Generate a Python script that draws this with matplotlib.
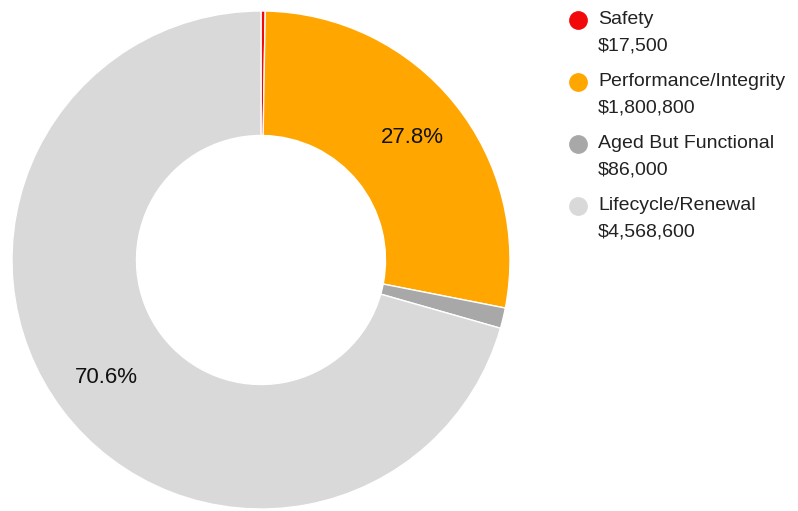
import matplotlib
matplotlib.use("Agg")
import matplotlib.pyplot as plt

plt.rcParams['font.family'] = ['Liberation Sans', 'DejaVu Sans']

categories = ["Safety", "Performance/Integrity", "Aged But Functional", "Lifecycle/Renewal"]
values = [17500, 1800800, 86000, 4568600]
value_labels = ["$17,500", "$1,800,800", "$86,000", "$4,568,600"]
colors = ["#f20a0a", "#ffa600", "#a8a8a8", "#d9d9d9"]

W, H = 798, 511
fig = plt.figure(figsize=(W/100, H/100), dpi=100)
cx, cy, R = 261, 260, 249
ax = fig.add_axes([(cx-R)/W, (H-cy-R)/H, 2*R/W, 2*R/H])

def fmt(p):
    return f"{p:.1f}%" if p > 5 else ""

wedges, texts, autotexts = ax.pie(
    values, colors=colors, startangle=90, counterclock=False,
    radius=1.0, autopct=fmt, pctdistance=0.78,
    wedgeprops=dict(width=0.5, edgecolor="white", linewidth=1.0),
    textprops=dict(fontsize=16, color="#111111"))
ax.set_xlim(-1, 1)
ax.set_ylim(-1, 1)
ax.set_aspect("equal")
ax.axis("off")

# legend drawn in a full-figure overlay (pixel coordinates)
lax = fig.add_axes([0, 0, 1, 1])
lax.set_xlim(0, W)
lax.set_ylim(H, 0)
lax.axis("off")
lax.patch.set_alpha(0)
y0, step = 20, 62
for i, (cat, val, col) in enumerate(zip(categories, value_labels, colors)):
    y = y0 + i * step
    lax.plot([578], [y], marker="o", markersize=12.5, color=col, linestyle="none")
    lax.text(598, y, cat, fontsize=14, color="#222222", va="center", ha="left")
    lax.text(598, y + 26, val.replace("$", "\\$"), fontsize=14, color="#222222",
             va="center", ha="left")

fig.savefig("out.png", dpi=100, facecolor="white")
